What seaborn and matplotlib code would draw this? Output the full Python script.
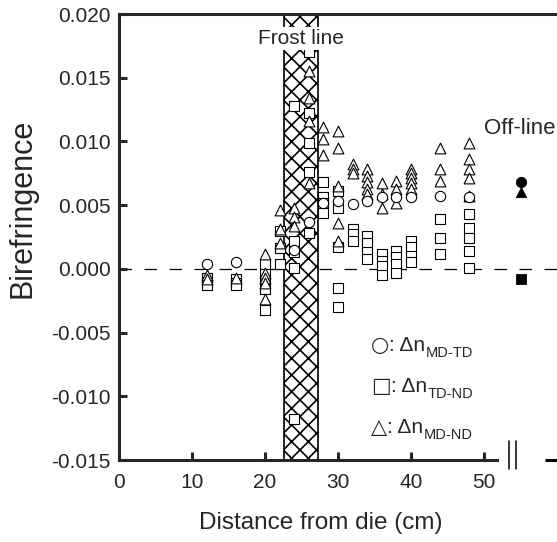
import numpy as np
import pandas as pd
import matplotlib
matplotlib.use("Agg")
import matplotlib.pyplot as plt
import seaborn as sns

# ---- data ----
circ_x = [12, 16, 24, 26, 28, 30, 32, 34, 36, 38, 40, 44, 48]
circ_y = [0.0004, 0.0005, 0.0015, 0.0037, 0.0052, 0.0053, 0.0051, 0.0053,
          0.0056, 0.0056, 0.0056, 0.0057, 0.0056]

sq_x = ([12] * 3 + [16] * 3 + [20] * 5 + [22] * 3 + [24] * 5 + [26] * 5 + [28] * 4
        + [30] * 5 + [32] * 3 + [34] * 4 + [36] * 4 + [38] * 4 + [40] * 4 + [44] * 3 + [48] * 5)
sq_y = [-0.0007, -0.0010, -0.0013,
        -0.0008, -0.0011, -0.0013,
        0.0004, -0.0004, -0.0009, -0.0016, -0.0032,
        0.0030, 0.0016, 0.0004,
        0.0128, 0.0022, 0.0013, 0.0001, -0.0118,
        0.0170, 0.0122, 0.0099, 0.0076, 0.0028,
        0.0068, 0.0056, 0.0052, 0.0044,
        0.0061, 0.0048, 0.0017, -0.0015, -0.0030,
        0.0031, 0.0027, 0.0022,
        0.0026, 0.0020, 0.0013, 0.0008,
        0.0012, 0.0006, 0.0002, -0.0005,
        0.0014, 0.0009, 0.0004, -0.0003,
        0.0022, 0.0017, 0.0010, 0.0005,
        0.0039, 0.0024, 0.0012,
        0.0043, 0.0032, 0.0024, 0.0014, 0.0001]

tri_x = ([12] * 2 + [16] * 1 + [20] * 5 + [22] * 3 + [24] * 3 + [26] * 4 + [28] * 3
         + [30] * 5 + [32] * 3 + [34] * 5 + [36] * 3 + [38] * 3 + [40] * 5 + [44] * 3 + [48] * 5)
tri_y = [-0.0005, -0.0008,
         -0.0007,
         0.0012, -0.0003, -0.0007, -0.0011, -0.0024,
         0.0046, 0.0031, 0.0020,
         0.0048, 0.0041, 0.0034,
         0.0155, 0.0134, 0.0116, 0.0067,
         0.0111, 0.0102, 0.0089,
         0.0108, 0.0095, 0.0065, 0.0036, 0.0022,
         0.0082, 0.0078, 0.0075,
         0.0078, 0.0073, 0.0068, 0.0063, 0.0059,
         0.0067, 0.0059, 0.0048,
         0.0069, 0.0063, 0.0052,
         0.0078, 0.0075, 0.0071, 0.0067, 0.0063,
         0.0095, 0.0078, 0.0069,
         0.0099, 0.0086, 0.0078, 0.0071, 0.0057]

off_x = 55
off_circ, off_tri, off_sq = 0.0068, 0.0060, -0.0008

frost_lo, frost_hi = 22.6, 27.3

legend_syms = ["\u25cb", "\u25a1", "\u25b3"]
legend_subs = ["MD-TD", "TD-ND", "MD-ND"]

sns.set_style("ticks")
plt.rcParams['font.family'] = ['Liberation Sans', 'DejaVu Sans']
plt.rcParams['hatch.linewidth'] = 1.2

fig = plt.figure(figsize=(5.57, 5.42), dpi=100)
ax = fig.add_axes([119 / 557, 82 / 542, 438 / 557, 446 / 542])
ax.set_xlim(0, 60)
ax.set_ylim(-0.015, 0.020)

# frost line band
ax.axvspan(frost_lo, frost_hi, facecolor='white', edgecolor='black',
           hatch='xx', lw=1.2, zorder=1)
ax.axhline(0, color='black', lw=0.9, ls=(0, (10, 10)), zorder=0.5)

mk = dict(facecolor='white', edgecolor='black', linewidth=0.8, zorder=3, legend=False)
sns.scatterplot(x=sq_x, y=sq_y, marker='s', s=55, ax=ax, **mk)
sns.scatterplot(x=tri_x, y=tri_y, marker='^', s=60, ax=ax, **mk)
sns.scatterplot(x=circ_x, y=circ_y, marker='o', s=55, ax=ax, **mk)

# off-line (filled)
off = pd.DataFrame({'x': [off_x] * 3, 'y': [off_circ, off_tri, off_sq], 'm': ['o', '^', 's']})
for m, sub in off.groupby('m'):
    sns.scatterplot(data=sub, x='x', y='y', marker=m, s=55, color='black',
                    edgecolor='black', ax=ax, zorder=4, legend=False, clip_on=False)

ax.text((frost_lo + frost_hi) / 2, 0.0181, "Frost line", ha='center', va='center', fontsize=15,
        bbox=dict(facecolor='white', edgecolor='none', pad=1.5), zorder=5)
ax.text(54.9, 0.0110, "Off-line", ha='center', va='center', fontsize=16, zorder=5)

# legend as chained text pieces
fig.canvas.draw()
renderer = fig.canvas.get_renderer()
rows_y = [-0.00645, -0.0097, -0.0129]
for sym, sub, yy in zip(legend_syms, legend_subs, rows_y):
    t1 = ax.text(34.5, yy, sym, fontsize=15, family='DejaVu Sans', va='baseline', ha='left', zorder=5)
    x1 = ax.transData.inverted().transform((t1.get_window_extent(renderer).x1, 0))[0]
    t2 = ax.text(x1, yy, ": \u0394n", fontsize=15, va='baseline', ha='left', zorder=5)
    x2 = ax.transData.inverted().transform((t2.get_window_extent(renderer).x1, 0))[0]
    ax.annotate(sub, xy=(x2, yy), xytext=(0.3, -4), textcoords='offset points',
                fontsize=10.5, va='baseline', ha='left', zorder=5)

# spines / ticks
for s in ['left', 'bottom', 'top']:
    ax.spines[s].set_linewidth(2.2)
ax.spines['right'].set_visible(False)
ax.spines['bottom'].set_bounds(0, 51.8)
ax.plot([58.4, 60], [-0.015, -0.015], color='black', lw=2.2, clip_on=False, solid_capstyle='butt')
for bx in [53.4, 54.4]:
    ax.plot([bx, bx], [-0.0135, -0.0157], color='black', lw=1.1, clip_on=False)

ax.set_xticks([0, 10, 20, 30, 40, 50])
ax.set_yticks(np.arange(-0.015, 0.0201, 0.005))
ax.set_yticklabels([f"{v:.3f}" for v in np.arange(-0.015, 0.0201, 0.005)])
ax.tick_params(direction='in', length=6, width=2.2, labelsize=15)
ax.tick_params(axis='y', pad=6)
ax.tick_params(axis='x', pad=9)
ax.tick_params(top=False, right=False)

ax.set_xlabel("Distance from die (cm)", fontsize=17.5)
ax.xaxis.set_label_coords(0.461, -0.116)
ax.set_ylabel("Birefringence", fontsize=22)
ax.yaxis.set_label_coords(-0.185, 0.565)

fig.savefig("out.png", dpi=100)
